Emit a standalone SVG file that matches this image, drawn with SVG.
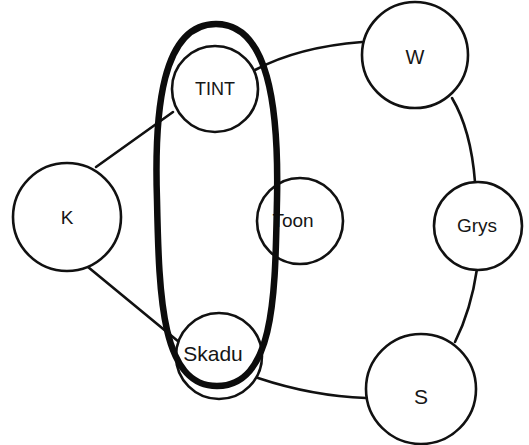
<svg xmlns="http://www.w3.org/2000/svg" width="529" height="445" viewBox="0 0 529 445">
  <style>
    .node circle { fill: #ffffff; stroke: #111111; stroke-width: 2.6; }
    .node text { font-family: "Liberation Sans", "DejaVu Sans", sans-serif; fill: #161616; text-anchor: middle; }
    .edge { fill: none; stroke: #111111; stroke-width: 2.6; stroke-linecap: round; }
    .ring { fill: none; stroke: #0c0c0c; stroke-width: 6.5; stroke-linejoin: round; }
  </style>
  <rect width="529" height="445" fill="#ffffff"/>

  <!-- connectors around the ring -->
  <g id="connectors">
    <path class="edge" d="M96,167 L173,112"/>
    <path class="edge" d="M255,70 Q298,47 362,42"/>
    <path class="edge" d="M452,98 Q471,130 475,182"/>
    <path class="edge" d="M477,269 Q471,310 455,342"/>
    <path class="edge" d="M258,378 Q312,396 366,398"/>
    <path class="edge" d="M88,267 L179,342"/>
  </g>

  <g id="node-k" class="node">
    <circle cx="67" cy="217" r="54"/>
    <text x="67" y="224" font-size="19">K</text>
  </g>
  <g id="node-tint" class="node">
    <circle cx="215" cy="89" r="43"/>
    <text x="215" y="95" font-size="18">TINT</text>
  </g>
  <g id="node-w" class="node">
    <circle cx="415" cy="55" r="53"/>
    <text x="415" y="64" font-size="20">W</text>
  </g>
  <g id="node-grys" class="node">
    <circle cx="478" cy="226" r="44"/>
    <text x="477" y="232" font-size="19">Grys</text>
  </g>
  <g id="node-s" class="node">
    <circle cx="421" cy="389" r="55"/>
    <text x="421" y="404" font-size="21">S</text>
  </g>
  <g id="node-skadu" class="node">
    <circle cx="219" cy="356" r="43"/>
    <text x="213" y="361" font-size="21">Skadu</text>
  </g>
  <g id="node-toon" class="node">
    <circle cx="300" cy="221" r="43"/>
    <text x="293" y="227" font-size="19">Toon</text>
  </g>

  <!-- heavy loop enclosing Tint and Skadu -->
  <g id="grouping">
    <path class="ring" d="M157,200 C154,110 162,24 216,24 C268,24 279,105 277,200 C275,290 276,386 217,386 C162,386 159,300 157,200 Z"/>
  </g>
</svg>
